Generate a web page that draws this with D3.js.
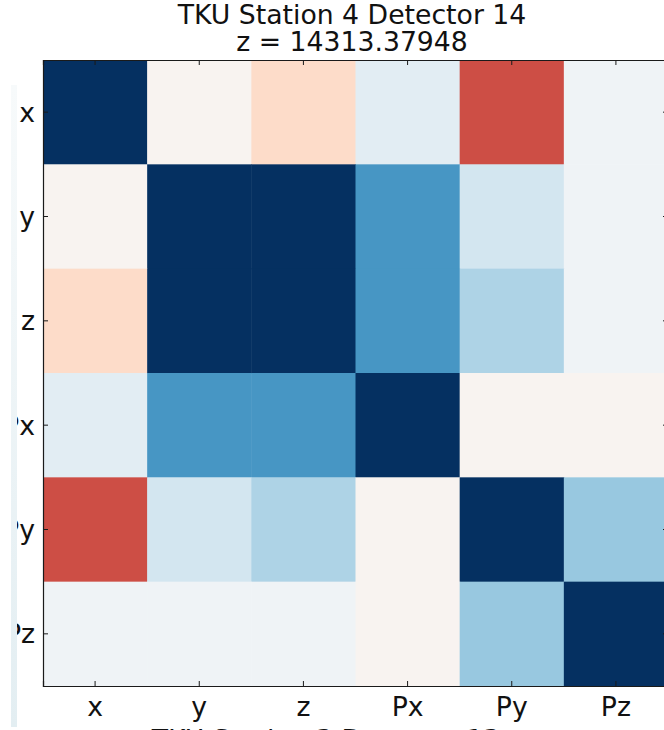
<!DOCTYPE html>
<html>
<head>
<meta charset="utf-8">
<script src="https://cdn.jsdelivr.net/npm/d3@7"></script>
<style>
  html, body { margin: 0; padding: 0; background: #ffffff; overflow: hidden; }
  svg { display: block; font-family: "DejaVu Sans", sans-serif; }
</style>
</head>
<body>
<svg id="chart" width="664" height="730"></svg>
<script>
// Correlation matrix of the track parameters between the two detectors
const variables = ["x", "y", "z", "Px", "Py", "Pz"];
const rowX  = [ 1.00, -0.03, -0.19,  0.11, -0.65,  0.04];
const rowY  = [-0.03,  1.00,  1.00,  0.59,  0.19,  0.04];
const rowZ  = [-0.19,  1.00,  1.00,  0.59,  0.31,  0.04];
const rowPx = [ 0.11,  0.59,  0.59,  1.00, -0.03, -0.03];
const rowPy = [-0.65,  0.19,  0.31, -0.03,  1.00,  0.38];
const rowPz = [ 0.04,  0.04,  0.04, -0.03,  0.38,  1.00];
const matrix = [rowX, rowY, rowZ, rowPx, rowPy, rowPz];

const titleLines = ["TKU Station 4 Detector 14", "z = 14313.37948"];
const nextTitle = "TKU Station 3 Detector 13";

// Diverging red-blue colormap, -1 (red) to +1 (blue)
const rdBuStops = ["#67001f", "#b2182b", "#d6604d", "#f4a582", "#fddbc7", "#f7f7f7",
                   "#d1e5f0", "#92c5de", "#4393c3", "#2166ac", "#053061"];
const color = d3.scaleLinear()
  .domain(d3.range(rdBuStops.length).map(i => -1 + 2 * i / (rdBuStops.length - 1)))
  .range(rdBuStops)
  .interpolate(d3.interpolateRgb)
  .clamp(true);

const svg = d3.select("#chart");
const plot = { left: 43, top: 60, right: 668, bottom: 686 };
const fontSize = 26.7;

const x = d3.scaleBand().domain(variables).range([plot.left, plot.right]);
const y = d3.scaleBand().domain(variables).range([plot.top, plot.bottom]);

// cells
const cells = [];
matrix.forEach((row, i) => row.forEach((v, j) => cells.push({ r: variables[i], c: variables[j], v })));
svg.append("g").selectAll("rect").data(cells).join("rect")
  .attr("x", d => x(d.c))
  .attr("y", d => y(d.r))
  .attr("width", x.bandwidth() + 0.5)
  .attr("height", y.bandwidth() + 0.5)
  .attr("fill", d => color(d.v));

// axes with inward ticks on all four sides
const tickLen = 5;
const bottomAxis = svg.append("g").attr("transform", `translate(0,${plot.bottom})`)
  .call(d3.axisBottom(x).tickSize(-tickLen));
const topAxis = svg.append("g").attr("transform", `translate(0,${plot.top})`)
  .call(d3.axisTop(x).tickSize(-tickLen).tickFormat(""));
const leftAxis = svg.append("g").attr("transform", `translate(${plot.left},0)`)
  .call(d3.axisLeft(y).tickSize(-tickLen).tickPadding(8));
const rightAxis = svg.append("g").attr("transform", `translate(${plot.right},0)`)
  .call(d3.axisRight(y).tickSize(-tickLen).tickFormat(""));

[bottomAxis, topAxis, leftAxis, rightAxis].forEach(g => {
  g.select(".domain").attr("stroke", "#1a1a1a").attr("stroke-width", 1.2);
  g.selectAll(".tick line").attr("stroke", "#1a1a1a").attr("stroke-width", 1);
  g.selectAll(".tick text")
    .attr("font-family", "DejaVu Sans, sans-serif")
    .attr("font-size", fontSize)
    .attr("fill", "#111");
});
leftAxis.selectAll(".tick text").attr("dy", "0.35em");
bottomAxis.selectAll(".tick text").attr("y", 30).attr("dy", 0);

// neighbouring panel on the left edge overlaps the row labels
svg.append("rect")
  .attr("x", 0).attr("y", 0).attr("width", 11).attr("height", 730)
  .attr("fill", "#ffffff");
const grad = svg.append("defs").append("linearGradient")
  .attr("id", "strip").attr("x1", 0).attr("y1", 0).attr("x2", 0).attr("y2", 1);
grad.append("stop").attr("offset", "0%").attr("stop-color", "#f7fafb");
grad.append("stop").attr("offset", "100%").attr("stop-color", "#e3eef2");
svg.append("rect")
  .attr("x", 11).attr("y", 0).attr("width", 6).attr("height", 85)
  .attr("fill", "#ffffff");
svg.append("rect")
  .attr("x", 11).attr("y", 85).attr("width", 6).attr("height", 642)
  .attr("fill", "url(#strip)");

// titles
svg.append("text").attr("x", 352).attr("y", 24)
  .attr("text-anchor", "middle").attr("font-size", fontSize).attr("fill", "#111")
  .text(titleLines[0]);
svg.append("text").attr("x", 352).attr("y", 51)
  .attr("text-anchor", "middle").attr("font-size", fontSize).attr("fill", "#111")
  .text(titleLines[1]);
// title of the panel below, only its top edge falls inside the view
svg.append("text").attr("x", 326).attr("y", 749)
  .attr("text-anchor", "middle").attr("font-size", fontSize).attr("fill", "#111")
  .text(nextTitle);
</script>
</body>
</html>
